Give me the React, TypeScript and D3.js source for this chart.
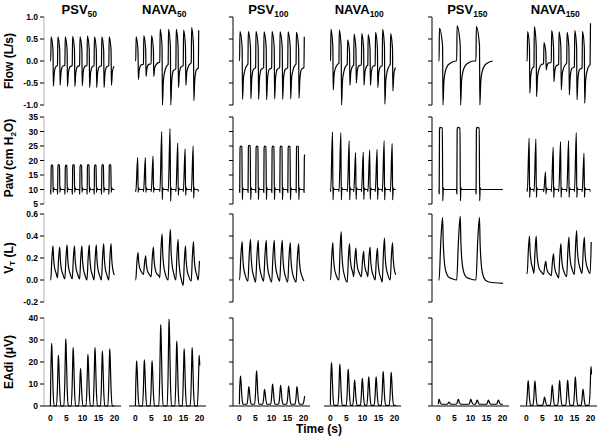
import React from "react";
import * as d3 from "d3";

// ---------- DATA ----------
const psv50Onsets = [0.1, 2.2, 4.5, 6.8, 9.1, 11.4, 13.6, 15.9, 18.2];
const psv50FlowPeak = [0.55, 0.55, 0.55, 0.56, 0.55, 0.57, 0.55, 0.55, 0.55];
const psv50FlowTrough = [-0.57, -0.55, -0.58, -0.58, -0.56, -0.6, -0.6, -0.6, -0.55];
const psv50PawPeak = [18.5, 18.6, 18.4, 18.6, 18.5, 18.6, 18.5, 18.6, 18.6];
const psv50PawPost = [9, 9, 9, 9, 9, 9, 9, 9, 9];
const psv50VtPeak = [0.31, 0.3, 0.32, 0.31, 0.31, 0.32, 0.32, 0.33, 0.33];
const psv50VtBase = [0.0, 0.02, 0.01, 0.01, 0.01, 0.0, 0.0, 0.0, 0.0];
const psv50Eadi = [28.5, 23, 30.5, 26.5, 17, 23.5, 26.5, 25, 26];

const nava50Onsets = [0.1, 2.5, 4.9, 7.6, 10.2, 12.6, 14.9, 17.4, 19.6];
const nava50FlowPeak = [0.55, 0.58, 0.58, 0.72, 0.72, 0.72, 0.7, 0.76, 0.7];
const nava50FlowTrough = [-0.42, -0.35, -0.35, -1.0, -1.0, -0.6, -0.55, -0.9, -0.5];
const nava50PawPeak = [21, 21, 21.5, 30, 31, 26, 24, 25, 19.5];
const nava50PawPost = [9, 9, 9, 6.5, 6, 8, 8, 7, 9];
const nava50VtPeak = [0.25, 0.22, 0.3, 0.42, 0.46, 0.37, 0.31, 0.35, 0.28];
const nava50VtBase = [0.0, 0.05, 0.03, 0.02, 0.0, 0.0, -0.05, -0.01, 0.0];
const nava50Eadi = [20.5, 21, 20.5, 37, 39.5, 29.5, 26, 26.5, 23];

const psv100Onsets = [0.05, 2.65, 5.05, 7.55, 10.05, 12.55, 15.05, 17.65, 20.1];
const psv100FlowPeak = [0.67, 0.67, 0.67, 0.66, 0.67, 0.66, 0.66, 0.65, 0.55];
const psv100FlowTrough = [-0.87, -0.86, -0.87, -0.88, -0.86, -0.87, -0.86, -0.85, -0.8];
const psv100PawPeak = [25, 25.2, 25, 25, 25, 25, 25, 25, 22];
const psv100PawPost = [6.5, 6.5, 6.5, 6.5, 6.5, 6.5, 6.5, 6.5, 6.5];
const psv100VtPeak = [0.35, 0.37, 0.36, 0.36, 0.36, 0.36, 0.34, 0.33, 0.3];
const psv100VtBase = [0.0, -0.01, -0.02, -0.01, -0.02, -0.01, -0.02, -0.02, -0.01];
const psv100Eadi = [13.6, 8.8, 16, 7.6, 10, 9.4, 9, 8.8, 4.5];

const nava100Onsets = [0.05, 2.65, 5.25, 7.25, 9.65, 11.65, 13.95, 16.15, 18.65];
const nava100FlowPeak = [0.72, 0.7, 0.48, 0.61, 0.62, 0.6, 0.65, 0.72, 0.62];
const nava100FlowTrough = [-0.66, -1.0, -0.55, -0.5, -0.55, -0.55, -0.6, -0.98, -0.68];
const nava100PawPeak = [29.9, 29.6, 26.8, 22.7, 22.9, 23.6, 23.8, 26.8, 25.9];
const nava100PawPost = [6.4, 6.4, 6.4, 6.6, 6.6, 6.6, 6.6, 6.4, 6.4];
const nava100VtPeak = [0.34, 0.44, 0.33, 0.29, 0.26, 0.3, 0.29, 0.38, 0.34];
const nava100VtBase = [0.0, 0.0, -0.02, 0.03, 0.03, 0.03, 0.0, -0.02, 0.0];
const nava100Eadi = [19.7, 19, 16.7, 11.8, 12.6, 13.3, 13.3, 15.6, 15.3];

const psv150Onsets = [0.2, 5.7, 11.7];
const psv150FlowPeak = [0.74, 0.8, 0.78];
const psv150FlowTrough = [-1.0, -1.0, -1.0];
const psv150PawPeak = [31.4, 31.4, 31.4];
const psv150PawPost = [6.1, 6.1, 6.1];
const psv150VtPeak = [0.57, 0.58, 0.57];
const psv150VtBase = [0.0, 0.0, 0.0];
const psv150EadiTimes = [0.2, 3.3, 6.2, 10.1, 12.1, 15.6, 18.7];
const psv150Eadi = [3, 1.8, 3, 3, 2.7, 2.7, 2.7];

const nava150Onsets = [0.25, 2.35, 5.35, 7.75, 10.05, 12.55, 14.95, 17.35, 19.85];
const nava150FlowPeak = [0.67, 0.78, 0.42, 0.69, 0.66, 0.65, 0.69, 0.67, 0.86];
const nava150FlowTrough = [-0.73, -0.81, -0.2, -0.47, -0.66, -0.77, -0.88, -0.96, -0.5];
const nava150PawPeak = [27.7, 27.4, 16.1, 24.6, 26.5, 26.9, 29.6, 22.5, 35];
const nava150PawPost = [7.3, 7.3, 8.5, 7.3, 7.3, 7.3, 7.3, 7.3, 7.3];
const nava150VtPeak = [0.4, 0.4, 0.17, 0.24, 0.33, 0.39, 0.45, 0.39, 0.52];
const nava150VtBase = [0.06, 0.06, 0.05, 0.04, 0.02, 0.03, 0.05, 0.06, 0.06];
const nava150Eadi = [11.5, 11.4, 4, 9.5, 11.5, 11.8, 13.2, 7.7, 17.9];

const modes = ["PSV", "NAVA", "PSV", "NAVA", "PSV", "NAVA"];
const levels = ["50", "50", "100", "100", "150", "150"];
const timeTicks = [0, 5, 10, 15, 20];
const flowTicks = [-1, -0.5, 0, 0.5, 1];
const pawTicks = [5, 10, 15, 20, 25, 30, 35];
const vtTicks = [-0.2, 0, 0.2, 0.4, 0.6];
const eadiTicks = [0, 10, 20, 30, 40];

type Panel = {
  end: number; ti: number; square: boolean;
  onsets: number[]; flowPeak: number[]; flowTrough: number[];
  pawPeak: number[]; pawDip: number; pawPost: number[];
  vtPeak: number[]; vtBase: number[]; vtEnd: number;
  eadi: number[]; eadiTimes?: number[]; eadiBase: number;
};

const panelsData: Panel[] = [
  { end: 20, ti: 0.7, square: true, onsets: psv50Onsets, flowPeak: psv50FlowPeak, flowTrough: psv50FlowTrough, pawPeak: psv50PawPeak, pawDip: 8.3, pawPost: psv50PawPost, vtPeak: psv50VtPeak, vtBase: psv50VtBase, vtEnd: 0.0, eadi: psv50Eadi, eadiBase: 0 },
  { end: 20.1, ti: 0.7, square: false, onsets: nava50Onsets, flowPeak: nava50FlowPeak, flowTrough: nava50FlowTrough, pawPeak: nava50PawPeak, pawDip: 9.3, pawPost: nava50PawPost, vtPeak: nava50VtPeak, vtBase: nava50VtBase, vtEnd: 0.1, eadi: nava50Eadi, eadiBase: 0 },
  { end: 20.4, ti: 0.8, square: true, onsets: psv100Onsets, flowPeak: psv100FlowPeak, flowTrough: psv100FlowTrough, pawPeak: psv100PawPeak, pawDip: 9, pawPost: psv100PawPost, vtPeak: psv100VtPeak, vtBase: psv100VtBase, vtEnd: 0.05, eadi: psv100Eadi, eadiBase: 0.8 },
  { end: 20.4, ti: 0.7, square: false, onsets: nava100Onsets, flowPeak: nava100FlowPeak, flowTrough: nava100FlowTrough, pawPeak: nava100PawPeak, pawDip: 9.3, pawPost: nava100PawPost, vtPeak: nava100VtPeak, vtBase: nava100VtBase, vtEnd: 0.0, eadi: nava100Eadi, eadiBase: 0.3 },
  { end: 20.1, ti: 1.1, square: true, onsets: psv150Onsets, flowPeak: psv150FlowPeak, flowTrough: psv150FlowTrough, pawPeak: psv150PawPeak, pawDip: 8.5, pawPost: psv150PawPost, vtPeak: psv150VtPeak, vtBase: psv150VtBase, vtEnd: -0.03, eadi: psv150Eadi, eadiTimes: psv150EadiTimes, eadiBase: 0.8 },
  { end: 20.3, ti: 0.7, square: false, onsets: nava150Onsets, flowPeak: nava150FlowPeak, flowTrough: nava150FlowTrough, pawPeak: nava150PawPeak, pawDip: 9.3, pawPost: nava150PawPost, vtPeak: nava150VtPeak, vtBase: nava150VtBase, vtEnd: 0.06, eadi: nava150Eadi, eadiBase: 0.3 },
];

// ---------- LAYOUT ----------
const panelLefts = [44, 129, 233, 324, 432, 520];
const axisLefts = [44, 233, 432];
const PW = 77;

const rows = [
  { key: "flow", domain: [-1, 1], range: [105, 17], ticks: flowTicks, fmt: (v: number) => v.toFixed(1) },
  { key: "paw", domain: [5, 35], range: [204, 117], ticks: pawTicks, fmt: (v: number) => String(v) },
  { key: "vt", domain: [-0.2, 0.6], range: [302, 214], ticks: vtTicks, fmt: (v: number) => v.toFixed(1) },
  { key: "eadi", domain: [0, 40], range: [406, 318], ticks: eadiTicks, fmt: (v: number) => String(v) },
];

// breath shape templates (relative times, fractions)
const FLOW_REC: [number, number][] = [[0.3, 0.45], [0.8, 0.22], [1.5, 0.1], [2.5, 0.04], [4, 0.0]];
const VT_DEC: [number, number][] = [[0.2, 0.6], [0.5, 0.32], [1.0, 0.14], [1.8, 0.05], [3, 0.02]];
const EADI_SHAPE: [number, number][] = [[-0.6, 0], [-0.32, 0.35], [-0.1, 0.88], [0, 1], [0.15, 0.8], [0.4, 0.3], [0.75, 0]];

type Pt = [number, number];
function push(a: Pt[], t: number, v: number) {
  if (a.length === 0 || t > a[a.length - 1][0] + 1e-6) a.push([t, v]);
}
const clip = (a: Pt[], end: number) => a.filter((p) => p[0] <= end + 1e-6);

function buildFlow(p: Panel): Pt[] {
  const a: Pt[] = [];
  push(a, 0, 0);
  p.onsets.forEach((t0, i) => {
    const tn = i + 1 < p.onsets.length ? p.onsets[i + 1] : p.end + 10;
    const P = p.flowPeak[i], N = p.flowTrough[i];
    const prev = a[a.length - 1][1];
    push(a, t0, i === 0 ? 0 : prev * 0.8);
    push(a, t0 + 0.12, P);
    push(a, t0 + p.ti, P * 0.45);
    const tt = t0 + p.ti + 0.12;
    push(a, tt, N);
    FLOW_REC.forEach(([dt, f]) => { if (tt + dt < tn - 0.15) push(a, tt + dt, N * f); });
  });
  return clip(a, p.end);
}

function buildPaw(p: Panel): Pt[] {
  const B = 10;
  const a: Pt[] = [];
  push(a, 0, B);
  p.onsets.forEach((t0, i) => {
    const P = p.pawPeak[i];
    push(a, t0 - 0.05, B);
    push(a, t0 + 0.04, p.pawDip);
    if (p.square) {
      push(a, t0 + 0.14, P - 0.8);
      push(a, t0 + 0.25, P);
      push(a, t0 + p.ti - 0.08, P - 0.2);
    } else {
      push(a, t0 + p.ti * 0.85, P);
    }
    push(a, t0 + p.ti + 0.06, p.pawPost[i]);
    push(a, t0 + p.ti + 0.22, B + 0.6);
    push(a, t0 + p.ti + 0.4, B);
  });
  push(a, p.end, B);
  return clip(a, p.end);
}

function buildVt(p: Panel): Pt[] {
  const a: Pt[] = [];
  push(a, 0, p.vtBase[0]);
  p.onsets.forEach((t0, i) => {
    const tn = i + 1 < p.onsets.length ? p.onsets[i + 1] : p.end + 10;
    const b = p.vtBase[i];
    const nb = i + 1 < p.vtBase.length ? p.vtBase[i + 1] : p.vtEnd;
    const P = p.vtPeak[i];
    push(a, t0, b);
    push(a, t0 + p.ti * 0.5, b + (P - b) * 0.62);
    push(a, t0 + p.ti, P);
    VT_DEC.forEach(([dt, f]) => { const t = t0 + p.ti + dt; if (t < tn - 0.15) push(a, t, nb + (P - nb) * f); });
  });
  push(a, p.end, p.vtEnd);
  return clip(a, p.end);
}

function buildEadi(p: Panel): Pt[] {
  const times = p.eadiTimes ?? p.onsets.map((t) => t + 0.3);
  const b = p.eadiBase;
  const a: Pt[] = [];
  push(a, 0, b);
  times.forEach((tp, i) => {
    const pk = p.eadi[i];
    EADI_SHAPE.forEach(([dt, f]) => push(a, tp + dt, b + (pk - b) * f));
  });
  push(a, p.end, b);
  return clip(a, p.end);
}

const builders = [buildFlow, buildPaw, buildVt, buildEadi];

export default function App() {
  const font = "'Liberation Sans', Arial, Helvetica, sans-serif";
  const yScales = rows.map((r) => d3.scaleLinear().domain(r.domain).range(r.range));
  return (
    <svg width={600} height={439} style={{ position: "absolute", left: 0, top: 0, background: "#fff" }} fontFamily={font}>
      <rect width={600} height={439} fill="#fff" />
      {panelLefts.map((left, i) => {
        const x = d3.scaleLinear().domain([-2, 22]).range([left, left + PW]);
        return (
          <text key={"t" + i} x={x(9)} y={13.5} textAnchor="middle" fontWeight="bold" fontSize={13}>
            {modes[i]}
            <tspan fontSize={8.5} dy={3}>{levels[i]}</tspan>
          </text>
        );
      })}
      {axisLefts.map((ax, gi) => (
        <g key={"ax" + gi}>
          {rows.map((r, ri) => {
            const y = yScales[ri];
            return (
              <g key={r.key}>
                <line x1={ax} x2={ax} y1={y(r.domain[1])} y2={y(r.domain[0])} stroke="#000"
                  strokeOpacity={gi === 0 ? 0.3 : 1} strokeWidth={1} />
                {r.ticks.map((t) => (
                  <g key={t}>
                    <line x1={ax - 4} x2={ax} y1={y(t)} y2={y(t)} stroke="#000" strokeWidth={1} />
                    {gi === 0 && (
                      <text x={ax - 6} y={y(t) + 3} textAnchor="end" fontSize={8.5} fontWeight="bold">{r.fmt(t)}</text>
                    )}
                  </g>
                ))}
              </g>
            );
          })}
        </g>
      ))}
      {panelLefts.map((left, i) => {
        const x = d3.scaleLinear().domain([-2, 22]).range([left, left + PW]);
        const y0 = yScales[3](0);
        return (
          <g key={"xa" + i}>
            <line x1={left} x2={left + PW} y1={y0} y2={y0} stroke="#000" strokeWidth={1} />
            {timeTicks.map((t) => (
              <text key={t} x={x(t)} y={421} textAnchor="middle" fontSize={8.5} fontWeight="bold">{t}</text>
            ))}
          </g>
        );
      })}
      {panelsData.map((p, pi) => {
        const x = d3.scaleLinear().domain([-2, 22]).range([panelLefts[pi], panelLefts[pi] + PW]);
        return builders.map((build, ri) => {
          const y = yScales[ri];
          const line = d3.line<Pt>().x((d) => x(d[0])).y((d) => y(d[1])).curve(d3.curveMonotoneX);
          return <path key={pi + "-" + ri} d={line(build(p)) || ""} fill="none" stroke="#000" strokeWidth={1.2} strokeLinejoin="round" />;
        });
      })}
      <text transform="translate(12.5,61) rotate(-90)" textAnchor="middle" fontWeight="bold" fontSize={12}>Flow (L/s)</text>
      <text transform="translate(12.5,158) rotate(-90)" textAnchor="middle" fontWeight="bold" fontSize={12}>
        Paw (cm H<tspan fontSize={8} dy={3}>2</tspan><tspan dy={-3}>O)</tspan>
      </text>
      <text transform="translate(12.5,258) rotate(-90)" textAnchor="middle" fontWeight="bold" fontSize={12}>
        V<tspan fontSize={8} dy={2}>T</tspan><tspan dy={-2}> (L)</tspan>
      </text>
      <text transform="translate(12.5,362) rotate(-90)" textAnchor="middle" fontWeight="bold" fontSize={12}>EAdi (μV)</text>
      <text x={319} y={433} textAnchor="middle" fontWeight="bold" fontSize={12}>Time (s)</text>
    </svg>
  );
}
